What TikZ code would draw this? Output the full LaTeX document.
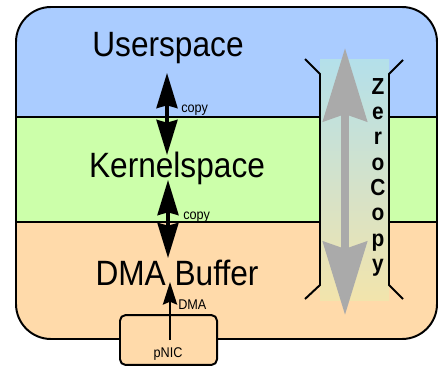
\documentclass[tikz,border=0pt]{standalone}
\usepackage{fontspec}
\setmainfont{Liberation Sans}[FakeStretch=0.9]
\usetikzlibrary{arrows.meta}

\definecolor{userblue}{RGB}{170,204,255}
\definecolor{kernelgreen}{RGB}{204,255,170}
\definecolor{dmaorange}{RGB}{255,218,170}
\definecolor{zcgray}{RGB}{170,170,170}
\definecolor{zctopc}{RGB}{180,224,234}
\definecolor{zcmidc}{RGB}{202,246,176}
\definecolor{zcbotc}{RGB}{242,228,172}

\begin{document}
\begin{tikzpicture}[x=0.025cm, y=-0.025cm, line join=round,
  layer/.style={font=\fontsize{25}{25}\selectfont, anchor=base, inner sep=0pt},
  small/.style={font=\fontsize{10}{10}\selectfont, anchor=base west, inner sep=0pt},
  letters/.style={font={\fontsize{16.5}{18}\selectfont\bfseries}, align=center, anchor=north, inner sep=0pt},
  frame/.style={line width=1.4pt},
  copyarrow/.style={{Stealth[length=25pt,width=15pt,inset=2pt]}-{Stealth[length=25pt,width=15pt,inset=2pt]}, line width=2.2pt},
  dmaarrow/.style={-{Stealth[length=16pt,width=10pt,inset=2pt]}, line width=2pt},
  zcarrow/.style={{Stealth[length=52pt,width=31pt,inset=5pt]}-{Stealth[length=52pt,width=31pt,inset=5pt]}, line width=5.7pt, draw=zcgray}]
\useasboundingbox (0,0) rectangle (438,367);
% bands
\begin{scope}
\clip[rounded corners=0.875cm] (16,7) rectangle (437,339);
\fill[userblue] (0,0) rectangle (438,117);
\fill[kernelgreen] (0,117) rectangle (438,222);
\fill[dmaorange] (0,222) rectangle (438,340);
\shade[top color=zctopc, middle color=zcmidc, bottom color=zcbotc] (320,60) rectangle (389,300);
\end{scope}
\draw[frame] (16,117) -- (320,117) (389,117) -- (437,117);
\draw[frame] (16,222) -- (320,222) (389,222) -- (437,222);
\draw[frame, rounded corners=0.875cm] (16,7) rectangle (437,339);
% zero copy
\coordinate (zctop) at (345,48);
\coordinate (zcbot) at (345,315);
\draw[zcarrow] (zctop) -- (zcbot);
\draw[frame] (305,59) -- (320,74) -- (320,285) -- (305,299);
\draw[frame] (403,60) -- (389,74) -- (389,285) -- (403,299);
\node[letters] (zerocopy) at (378,78) {Z\\e\\r\\o\\C\\o\\p\\y};
% layers
\node[layer] (user) at (168,57) {Userspace};
\node[layer] (kernel) at (177,177) {Kernelspace};
\node[layer] (dmabuf) at (177,285) {DMA Buffer};
\coordinate (c1a) at (167,73);
\coordinate (c1b) at (167,155);
\coordinate (c2a) at (168,180);
\coordinate (c2b) at (168,258);
\draw[copyarrow] (c1a) -- (c1b);
\draw[copyarrow] (c2a) -- (c2b);
\node[small] (copyA) at (181,112) {copy};
\node[small] (copyB) at (183,219) {copy};
% nic
\node[frame, draw, fill=dmaorange, rounded corners=4pt, minimum width=69pt, minimum height=35.5pt] (pnic) at (168.5,340) {};
\node[small, anchor=base] (pniclabel) at (168,357) {pNIC};
\coordinate (dmatip) at (170,282);
\draw[dmaarrow] (pnic.center -| dmatip) -- (dmatip);
\node[small] (dmalabel) at (178,309) {DMA};
\end{tikzpicture}
\end{document}
